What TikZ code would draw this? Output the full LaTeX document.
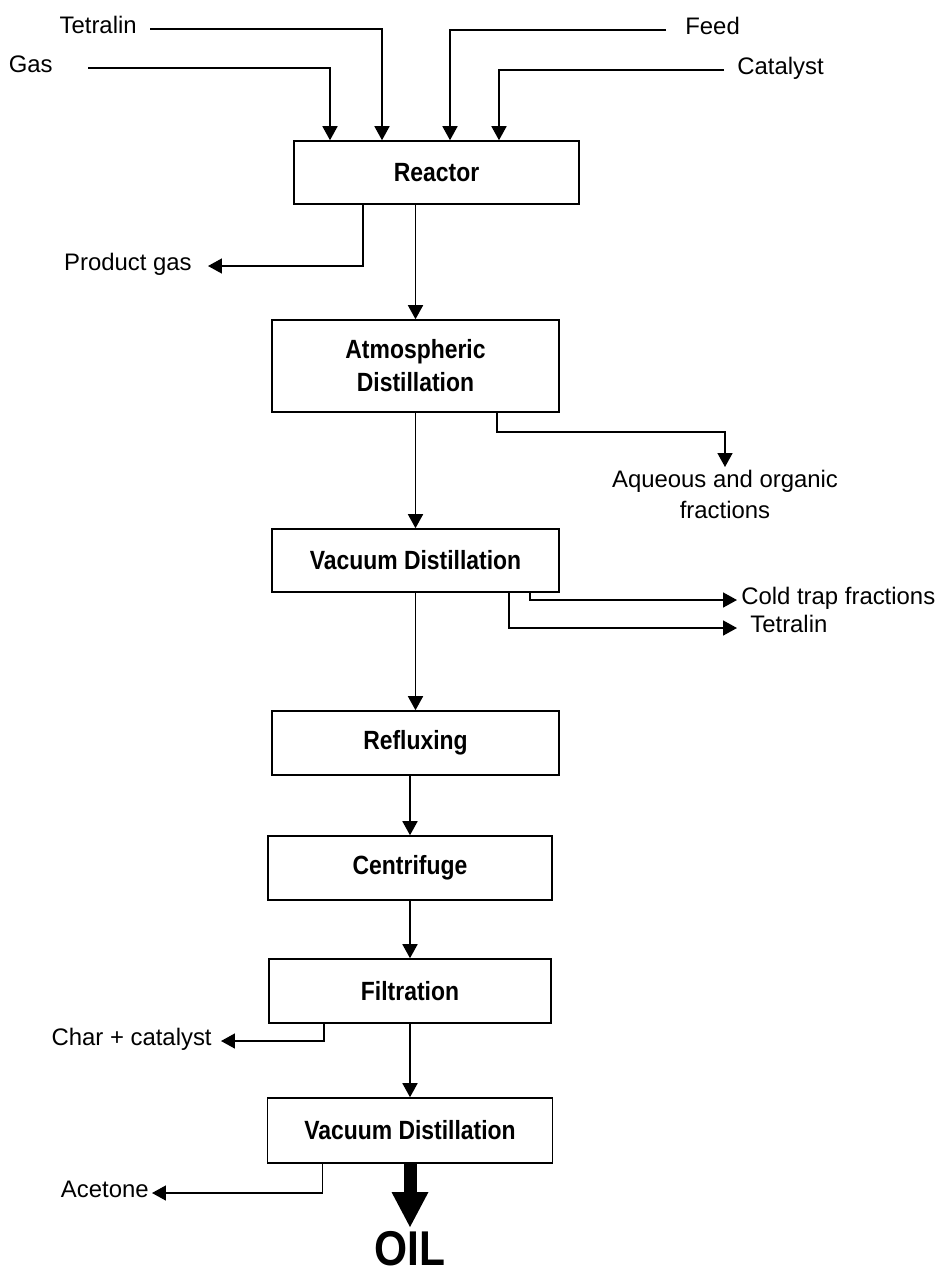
\documentclass[tikz,border=0pt]{standalone}
\usepackage{fontspec}
\setmainfont{Liberation Sans}[BoldFeatures={FakeStretch=0.87}]
\usetikzlibrary{calc, arrows.meta}

\begin{document}
\begin{tikzpicture}[x=0.02cm, y=-0.02cm,
  unit/.style={draw, line width=0.9pt, inner sep=0pt, minimum width=5.74cm, minimum height=1.28cm,
    align=center, font=\fontsize{15}{18.7}\selectfont\bfseries},
  stream/.style={inner sep=0pt, text height=0.72em, text depth=0.21em, font=\fontsize{13.6}{17.6}\selectfont},
  flow/.style={line width=0.9pt, -{Triangle[length=0.28cm, width=0.3cm]}}]
  \useasboundingbox (0,0) rectangle (948,1275);

  % process units
  \node[unit, minimum width=5.7cm, minimum height=1.26cm] (reactor) at (436.5,172.5) {Reactor};
  \node[unit, minimum height=1.84cm] (atmdist) at (415.5,366) {Atmospheric\\Distillation};
  \node[unit, minimum height=1.26cm] (vacdist) at (415.5,560.5) {Vacuum Distillation};
  \node[unit] (reflux) at (415.5,743) {Refluxing};
  \node[unit, minimum width=5.68cm] (centrifuge) at (410,868) {Centrifuge};
  \node[unit, minimum width=5.64cm] (filtration) at (410,991) {Filtration};
  \node[unit, minimum width=5.7cm, minimum height=1.3cm] (vacdist2) at (410,1130.5) {Vacuum Distillation};

  % streams in
  \node[stream, anchor=east, inner xsep=0.26cm] (tetralin) at (150,29) {Tetralin};
  \node[stream, anchor=east, inner xsep=0.7cm] (gas) at (88,68) {Gas};
  \node[stream, anchor=west, inner xsep=0.38cm] (feed) at (666,30) {Feed};
  \node[stream, anchor=west, inner xsep=0.26cm] (catalyst) at (724,70) {Catalyst};

  % streams out
  \node[stream, anchor=east, inner xsep=0.32cm] (prodgas) at (208,266) {Product gas};
  \node[anchor=north, inner sep=0.06cm, align=center, font=\fontsize{13.6}{17.6}\selectfont] (aqueous) at (725,467) {Aqueous and organic\\fractions};
  \node[stream, anchor=west, inner xsep=0.08cm] (coldtrap) at (737,600) {Cold trap fractions};
  \node[stream, anchor=west, inner xsep=0.26cm] (tetralinout) at (737,628) {Tetralin};
  \node[stream, anchor=east, inner xsep=0.18cm] (charcat) at (221,1041) {Char + catalyst};
  \node[stream, anchor=east, inner xsep=0.06cm] (acetone) at (152,1193) {Acetone};
  \node[anchor=north, inner sep=0pt, inner ysep=0.08cm, font=\fontsize{27.8}{30}\selectfont\bfseries] (oil) at (410,1227) {OIL};

  \draw[flow] (tetralin.east) -| ($(reactor.north)+(-54.5,0)$);
  \draw[flow] (gas.east) -| ($(reactor.north)+(-106.5,0)$);
  \draw[flow] (feed.west) -| ($(reactor.north)+(13.5,0)$);
  \draw[flow] (catalyst.west) -| ($(reactor.north)+(62.5,0)$);
  \draw[flow] ($(reactor.south)+(-73.5,0)$) |- (prodgas.east);
  \draw[flow] (atmdist.north |- reactor.south) -- (atmdist.north);
  \draw[flow] ($(atmdist.south)+(81.5,0)$) |- ($(aqueous.north)+(0,-35)$) -- (aqueous.north);
  \draw[flow] (atmdist) -- (vacdist);
  \draw[flow] ($(vacdist.south)+(114.5,0)$) |- (coldtrap.west);
  \draw[flow] ($(vacdist.south)+(93.5,0)$) |- (tetralinout.west);
  \draw[flow] (vacdist) -- (reflux);
  \draw[flow] (centrifuge.north |- reflux.south) -- (centrifuge);
  \draw[flow] (centrifuge) -- (filtration);
  \draw[flow] ($(filtration.south)+(-86,0)$) |- (charcat.east);
  \draw[flow] (filtration) -- (vacdist2);
  \draw[flow] ($(vacdist2.south)+(-87.5,0)$) |- (acetone.east);
  \draw[line width=0.26cm, -{Triangle[length=0.7cm, width=0.74cm, line width=0pt]}] (vacdist2) -- (oil);
\end{tikzpicture}
\end{document}
